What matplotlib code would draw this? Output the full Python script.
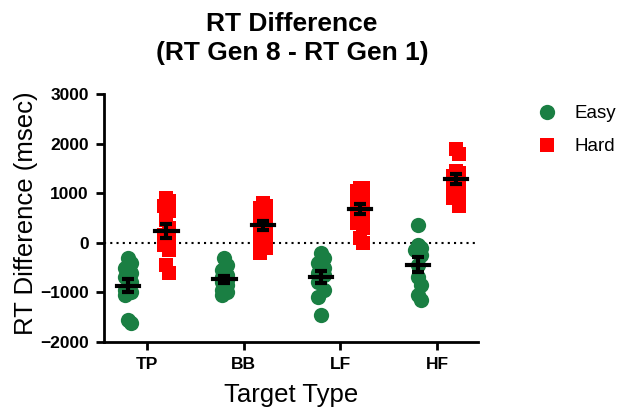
import numpy as np
import matplotlib
matplotlib.use("Agg")
import matplotlib.pyplot as plt

plt.rcParams['font.family'] = ['Liberation Sans', 'DejaVu Sans']

categories = ["TP", "BB", "LF", "HF"]
easy = [
    [-300, -400, -500, -600, -700, -800, -950, -1000, -1050, -1560, -1620],
    [-300, -450, -550, -650, -700, -750, -800, -850, -950, -1000, -1050],
    [-200, -300, -400, -500, -600, -650, -800, -950, -1100, -1450],
    [350, -50, -100, -150, -250, -450, -700, -850, -1050, -1150],
]
hard = [
    [900, 850, 750, 650, 450, 300, 150, 50, -50, -150, -450, -600],
    [800, 750, 700, 600, 500, 450, 400, 300, 250, 150, 0, -100, -200],
    [1100, 1100, 1050, 1000, 950, 900, 800, 700, 600, 500, 400, 300, 100, 0],
    [1900, 1800, 1450, 1400, 1350, 1300, 1250, 1200, 1100, 1000, 900, 750],
]

green = "#1a7f43"
red = "#ff0000"


def spread(vals, gap=160, step=0.03):
    # small sideways shift for points that sit close together
    vals = np.sort(np.array(vals, dtype=float))[::-1]
    offs = np.zeros(len(vals))
    k = 0
    for i in range(1, len(vals)):
        if vals[i - 1] - vals[i] < gap:
            k += 1
            offs[i] = step * (1 if k % 2 else -1)
        else:
            k = 0
    return vals, offs


fig = plt.figure(figsize=(6.2, 4.16), dpi=100)
ax = fig.add_axes([0.168, 0.178, 0.603, 0.596])

x = np.arange(len(categories))
for data, dx, col, mk, lab in [(easy, -0.2, green, "o", "Easy"), (hard, 0.2, red, "s", "Hard")]:
    for i, vals in enumerate(data):
        v, o = spread(vals)
        ax.plot(x[i] + dx + o, v, mk, color=col, ms=11 if mk == "o" else 10.5,
                mew=0, ls="none", zorder=2, label=lab if i == 0 else None)
        m = np.mean(vals)
        se = np.std(vals, ddof=1) / np.sqrt(len(vals))
        ax.errorbar(x[i] + dx, m, yerr=se, color="black", capsize=4.5, capthick=3,
                    elinewidth=3, zorder=4)
        ax.plot([x[i] + dx - 0.115, x[i] + dx + 0.115], [m, m], color="black", lw=3, zorder=4)

ax.axhline(0, color="black", ls=(0, (1, 2)), lw=1.5, zorder=1)

ax.set_xlim(-0.445, 3.425)
ax.set_ylim(-2000, 3000)
ax.set_yticks([-2000, -1000, 0, 1000, 2000, 3000])
ax.set_xticks(x)
ax.set_xticklabels(categories)
for s in ["top", "right"]:
    ax.spines[s].set_visible(False)
for s in ["left", "bottom"]:
    ax.spines[s].set_linewidth(2)
ax.tick_params(width=2, length=6, labelsize=12.5, pad=5)
for t in ax.get_xticklabels() + ax.get_yticklabels():
    t.set_fontweight("bold")

ax.set_ylabel("RT Difference (msec)", fontsize=18.5)
ax.yaxis.set_label_coords(-0.209, 0.52)
ax.set_xlabel("Target Type", fontsize=18.5)
ax.xaxis.set_label_coords(0.5, -0.214)
ax.xaxis.label.set_va("center")
ax.yaxis.label.set_va("center")

fig.text(0.471, 0.972, "RT Difference\n(RT Gen 8 - RT Gen 1)", ha="center", va="top",
         fontsize=19, fontweight="bold", linespacing=1.3)

ax.legend(loc="upper left", bbox_to_anchor=(0.852, 0.765), bbox_transform=fig.transFigure,
          frameon=False, fontsize=13.5, handletextpad=0.85, labelspacing=0.85,
          handlelength=1.2, borderaxespad=0)

fig.savefig("out.png", dpi=100)
